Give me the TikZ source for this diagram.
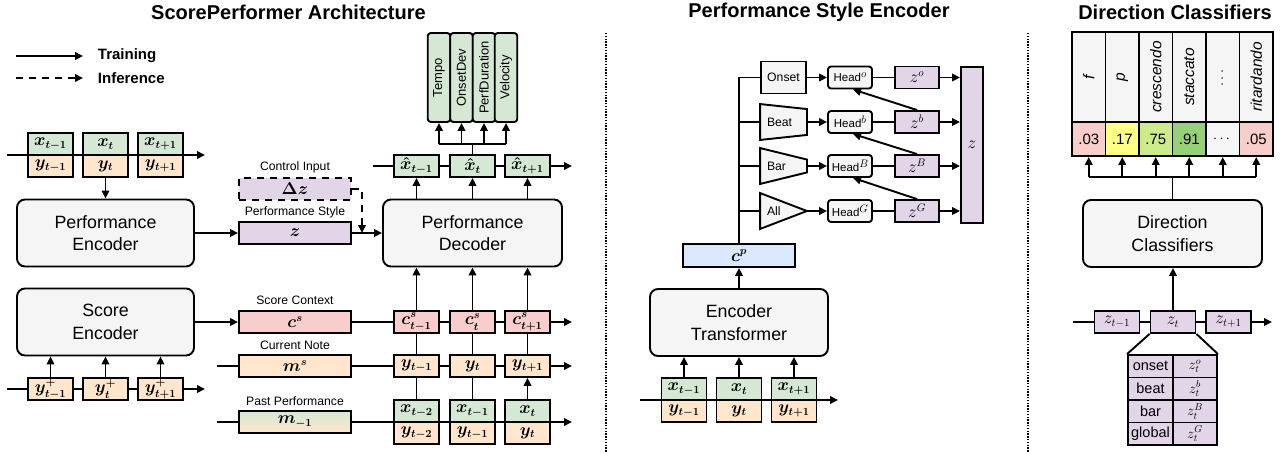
\documentclass[tikz,border=0pt]{standalone}
\usepackage{amsmath}
\usepackage{fontspec}
\setmainfont{Liberation Sans}
\usetikzlibrary{arrows.meta,calc}

\definecolor{cgreen}{HTML}{D5E8D4}
\definecolor{corange}{HTML}{FFE6CC}
\definecolor{cpurple}{HTML}{E1D5E7}
\definecolor{cred}{HTML}{F8CECC}
\definecolor{cblue}{HTML}{DAE8FC}
\definecolor{cgray}{HTML}{F5F5F5}
\definecolor{cyellow}{HTML}{FFFF88}
\definecolor{clime}{HTML}{CDEB8B}
\definecolor{cmid}{HTML}{97D077}

% raised index after the word "Head"
\newcommand{\headsup}[1]{\raisebox{4pt}{\fontsize{10.5}{11}\selectfont$#1$}}

\begin{document}
\begin{tikzpicture}[x=1pt,y=-1pt,line width=1.9pt,
  arr/.style={-{Triangle[length=8pt,width=7.5pt]}},
  dsh/.style={dash pattern=on 7pt off 6pt},
  ttl/.style={font=\fontsize{20}{24}\selectfont\bfseries, inner sep=0pt},
  leg/.style={font=\fontsize{15}{18}\selectfont\bfseries, inner sep=0pt},
  big/.style={font=\fontsize{17.8}{22.5}\selectfont, align=center},
  lab/.style={font=\fontsize{12.2}{14}\selectfont, inner sep=0pt},
  hlab/.style={font=\fontsize{11.5}{14}\selectfont},
  mth/.style={font=\fontsize{16}{18}\selectfont\boldmath},
  mthr/.style={font=\fontsize{16}{18}\selectfont},
  tok/.style={draw, inner sep=0pt, minimum width=45pt, minimum height=22pt, mth},
  wide/.style={minimum width=112pt},
  blk/.style={draw, fill=cgray, rounded corners=8pt, minimum width=177pt, minimum height=67pt, big},
  sep/.style={line width=1.4pt, dash pattern=on 1.4pt off 1.4pt},
  headbox/.style={draw, fill=cgray, rounded corners=3pt, inner sep=0pt, minimum width=44pt, minimum height=22pt, hlab},
  zbox/.style={draw, fill=cpurple, inner sep=0pt, minimum width=44pt, minimum height=22pt, mthr},
  ghost/.style={inner sep=0pt, minimum width=45pt, minimum height=34pt},
  outbox/.style={draw, fill=cgreen, rounded corners=3pt, rotate=90, inner sep=0pt, minimum width=89pt, minimum height=22.5pt, font=\fontsize{13}{15}\selectfont},
  dircell/.style={draw, fill=cgray, rotate=90, inner sep=0pt, minimum width=90pt, minimum height=33.5pt, font=\fontsize{15.5}{18}\selectfont\itshape},
  valcell/.style={draw, inner sep=0pt, minimum width=33.5pt, minimum height=34pt, font=\fontsize{15}{18}\selectfont},
  subcell/.style={draw, fill=cpurple, inner sep=0pt, minimum height=22.5pt, font=\fontsize{14.5}{17}\selectfont},
]
\useasboundingbox (0,0) rectangle (1286,453);

% ---------------- titles and separators ----------------
\node[ttl] (t1) at (288.5,12) {ScorePerformer Architecture};
\node[ttl] (t2) at (819,12) {Performance Style Encoder};
\node[ttl] (t3) at (1175,12) {Direction Classifiers};
\coordinate (s1a) at (606,33); \coordinate (s1b) at (606,452);
\coordinate (s2a) at (1028,33); \coordinate (s2b) at (1028,452);
\draw[sep] (s1a) -- (s1b);
\draw[sep] (s2a) -- (s2b);

% ---------------- legend ----------------
\coordinate (lgA) at (16,56); \coordinate (lgB) at (83,56);
\draw[arr] (lgA) -- (lgB);
\node[leg, anchor=west] (lgT) at (97,56) {Training};
\coordinate (lgC) at (16,78); \coordinate (lgD) at (83,78);
\draw[arr, dsh] (lgC) -- (lgD);
\node[leg, anchor=west] (lgI) at (97,78) {Inference};

% ---------------- performance input tokens ----------------
\coordinate (r1a) at (7,155); \coordinate (r1b) at (205,155);
\draw[arr] (r1a) -- (r1b);
\foreach \i/\x/\s in {1/50.5/{t-1}, 2/105.5/t, 3/160.5/{t+1}} {
  \node[tok, fill=cgreen] (tx\i) at (\x,144) {$x_{\s}$};
  \node[tok, fill=corange] (ty\i) at (\x,166) {$y_{\s}$};
}

% ---------------- encoders ----------------
\node[blk] (penc) at (105.5,233) {Performance\\Encoder};
\draw[arr] (ty2.south) -- (penc.north);
\node[blk] (senc) at (105.5,322) {Score\\Encoder};

\coordinate (r2a) at (7,389); \coordinate (r2b) at (205,389);
\draw[arr] (r2a) -- (r2b);
\foreach \i/\x/\s in {1/50.5/{t-1}, 2/105.5/t, 3/160.5/{t+1}} {
  \node[tok, fill=corange] (yp\i) at (\x,389) {$y^{+}_{\s}$};
  \draw[arr] (yp\i.north) -- (yp\i.north |- senc.south);
}

% ---------------- latent and context vectors ----------------
\node[lab] (lci) at (295,167) {Control Input};
\node[tok, wide, fill=cpurple, dsh] (dz) at (295,189) {$\Delta z$};
\node[lab] (lps) at (295,212) {Performance Style};
\node[tok, wide, fill=cpurple] (zz) at (295,233) {$z$};
\node[blk, minimum width=179pt] (pdec) at (472.5,233) {Performance\\Decoder};
\draw[arr] (penc.east) -- (zz.west);
\draw[arr] (zz.east) -- (pdec.west);
\coordinate (dzj) at (362,233);
\draw[arr, dsh] (dz.east) -| (dzj);

\coordinate (csr) at (572,322);
\coordinate (msl) at (217,366); \coordinate (msr) at (572,366);
\coordinate (mpl) at (217,422); \coordinate (mpr) at (572,422);
\node[lab] (lsc) at (295,300) {Score Context};
\node[lab] (lcn) at (295,345) {Current Note};
\node[lab] (lpp) at (295,401) {Past Performance};
\node[tok, wide, fill=cred] (cs) at (295,322) {$c^{s}$};
\node[tok, wide, fill=corange] (ms) at (295,366) {$m^{s}$};
\node[tok, wide, top color=cgreen, bottom color=corange, draw] (mp) at (295,422) {$m_{-1}$};
\draw[arr] (senc.east) -- (cs.west);
\draw[arr] (cs.east) -- (csr);
\draw (msl) -- (ms.west);
\draw[arr] (ms.east) -- (msr);
\draw (mpl) -- (mp.west);
\draw[arr] (mp.east) -- (mpr);

% ---------------- decoder input grid ----------------
\foreach \i/\x/\s/\p in {1/416.5/{t-1}/{t-2}, 2/472.5/t/{t-1}, 3/527.5/{t+1}/t} {
  \node[tok, fill=cred] (cg\i) at (\x,322) {$c^{s}_{\s}$};
  \node[tok, fill=corange] (yg\i) at (\x,366) {$y_{\s}$};
  \node[tok, fill=cgreen] (xg\i) at (\x,411) {$x_{\p}$};
  \node[tok, fill=corange] (yb\i) at (\x,433) {$y_{\p}$};
  \draw[arr] (cg\i.north) -- (cg\i.north |- pdec.south);
  \draw (cg\i.south) -- (yg\i.north);
}
\draw (yg1.south) -- (xg1.north);
\draw (yg2.south) -- (xg2.north);
\draw[arr] (xg3.north) -- (yg3.south);

% ---------------- decoder outputs ----------------
\coordinate (xhl) at (373,166); \coordinate (xhr) at (572,166);
\draw[arr] (xhl) -- (xhr);
\foreach \i/\x/\s in {1/416.5/{t-1}, 2/472.5/t, 3/527.5/{t+1}} {
  \node[tok, fill=cgreen] (xh\i) at (\x,166) {$\hat{x}_{\s}$};
  \draw[arr] (xh\i.south |- pdec.north) -- (xh\i.south);
}
\foreach \i/\x/\t in {1/439/Tempo, 2/461.5/OnsetDev, 3/484/PerfDuration, 4/506/Velocity} {
  \node[outbox] (o\i) at (\x,77.5) {\t};
}
\coordinate (ob) at (472.5,144);
\draw (xh2.north) -- (ob);
\draw (o1.west |- ob) -- (o4.west |- ob);
\foreach \i in {1,...,4} { \draw[arr] (o\i.west |- ob) -- (o\i.west); }

% ================= performance style encoder =================
\node[draw, fill=cgray, inner sep=0pt, minimum width=45pt, minimum height=32pt, lab] (sOn) at (783.5,77.5) {Onset};
\node[ghost] (sBe) at (783.5,122) {};
\node[ghost] (sBa) at (783.5,166) {};
\node[ghost] (sAl) at (783.5,211) {};
\draw[fill=cgray] (sBe.north west) -- ($(sBe.north east)+(0,5)$) -- ($(sBe.south east)+(0,-5)$) -- (sBe.south west) -- cycle;
\draw[fill=cgray] (sBa.north west) -- ($(sBa.north east)+(0,11.5)$) -- ($(sBa.south east)+(0,-11.5)$) -- (sBa.south west) -- cycle;
\draw[fill=cgray] (sAl.north west) -- (sAl.east) -- (sAl.south west) -- cycle;
\node[lab, anchor=west] (tBe) at ($(sBe.west)+(6,0)$) {Beat};
\node[lab, anchor=west] (tBa) at ($(sBa.west)+(6,0)$) {Bar};
\node[lab, anchor=west] (tAl) at ($(sAl.west)+(6,0)$) {All};

\node[draw, fill=cblue, inner sep=0pt, minimum width=112pt, minimum height=23pt, mth] (cp) at (739,255.5) {$c^{p}$};
\draw (sOn.west) -| (cp.north);
\draw (cp.north |- sBe.west) -- (sBe.west);
\draw (cp.north |- sBa.west) -- (sBa.west);
\draw (cp.north |- sAl.west) -- (sAl.west);

\foreach \i/\y/\s/\n in {1/77.5/o/sOn, 2/122/b/sBe, 3/166/B/sBa, 4/211/G/sAl} {
  \node[headbox] (hd\i) at (850,\y) {Head\headsup{\s}};
  \node[zbox] (zi\i) at (917,\y) {$z^{\s}$};
  \draw[arr] (\n.east) -- (hd\i.west);
  \draw (hd\i.east) -- (zi\i.west);
}
\node[draw, fill=cpurple, inner sep=0pt, minimum width=22pt, minimum height=156pt, mthr] (bz) at (972,145) {$z$};
\foreach \i in {1,...,4} { \draw[arr] (zi\i.east) -- (zi\i.east -| bz.west); }
\draw[arr] (zi2.north) -- ($(hd1.south)+(3,0)$);
\draw[arr] (zi3.north) -- ($(hd2.south)+(3,0)$);
\draw[arr] (zi4.north) -- ($(hd3.south)+(3,0)$);

\node[blk, minimum width=178pt] (et) at (739,322.5) {Encoder\\Transformer};
\draw[arr] (et.north) -- (cp.south);
\coordinate (erl) at (640,400); \coordinate (err) at (838,400);
\draw[arr] (erl) -- (err);
\foreach \i/\x/\s in {1/684/{t-1}, 2/739/t, 3/794/{t+1}} {
  \node[tok, fill=cgreen] (ex\i) at (\x,389) {$x_{\s}$};
  \node[tok, fill=corange] (ey\i) at (\x,411) {$y_{\s}$};
  \draw[arr] (ex\i.north) -- (ex\i.north |- et.south);
}

% ================= direction classifiers =================
\foreach \i/\t/\v/\c in {1/f/.03/cred, 2/p/.17/cyellow, 3/crescendo/.75/clime, 4/staccato/.91/cmid, 5/{$\cdots$}/{$\cdots$}/cgray, 6/ritardando/.05/cred} {
  \node[dircell] (dl\i) at ({1072+33.5*(\i-0.5)},77) {\t};
  \node[valcell, fill=\c] (dv\i) at ({1072+33.5*(\i-0.5)},139) {\v};
}
\node[blk, minimum width=179pt] (dc) at (1172.5,233.5) {Direction\\Classifiers};
\coordinate (db) at (1172.5,177);
\draw (dc.north) -- (db);
\draw (dv1.south |- db) -- (dv6.south |- db);
\foreach \i in {1,...,6} { \draw[arr] (dv\i.south |- db) -- (dv\i.south); }

\coordinate (zrl) at (1073,322); \coordinate (zrr) at (1272,322);
\draw[arr] (zrl) -- (zrr);
\foreach \i/\x/\s in {1/1117/{t-1}, 2/1173/t, 3/1228.5/{t+1}} {
  \node[tok, mthr, fill=cpurple] (zr\i) at (\x,322) {$z_{\s}$};
}
\draw[arr] (zr2.north) -- (zr2.north |- dc.south);

\foreach \i/\y/\l/\s in {1/366.25/onset/o, 2/388.75/beat/b, 3/411.25/bar/B, 4/433.75/global/G} {
  \node[subcell, minimum width=45pt] (sl\i) at (1150.5,\y) {\l};
  \node[subcell, minimum width=44pt, font=\fontsize{14}{16}\selectfont] (sv\i) at (1195,\y) {$z_t^{\s}$};
}
\draw (zr2.south west) -- (sl1.north west);
\draw (zr2.south east) -- (sv1.north east);
\end{tikzpicture}
\end{document}
